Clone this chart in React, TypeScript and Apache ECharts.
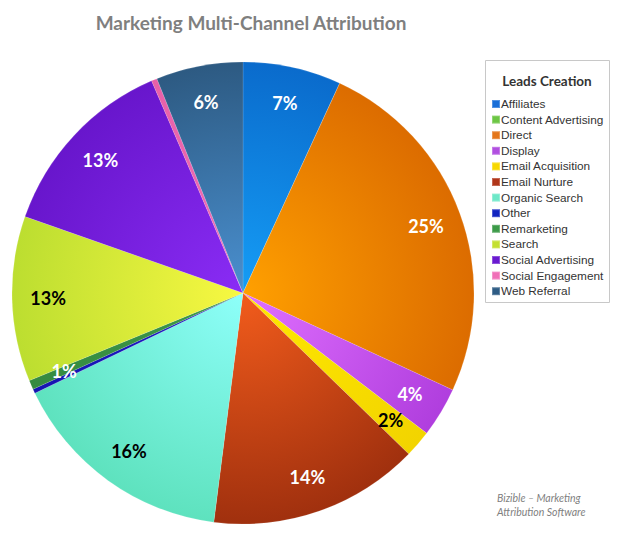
import React, { useEffect, useRef } from "react";
import * as echarts from "echarts";

const categories = [
  "Affiliates",
  "Content Advertising",
  "Direct",
  "Display",
  "Email Acquisition",
  "Email Nurture",
  "Organic Search",
  "Other",
  "Remarketing",
  "Search",
  "Social Advertising",
  "Social Engagement",
  "Web Referral",
];

const shares = [6.9, 0, 25.1, 3.5, 1.9, 14.8, 15.9, 0.3, 0.65, 11.6, 13.2, 0.4, 6.1];

const percentLabels = ["7%", "", "25%", "4%", "2%", "14%", "16%", "", "1%", "13%", "13%", "", "6%"];

const labelColors = ["#fff", "#fff", "#fff", "#fff", "#000", "#fff", "#000", "#fff", "#fff", "#000", "#fff", "#fff", "#fff"];

const innerColors = ["#159df6", "#6cc644", "#ffa000", "#e070ff", "#ffe800", "#f25c1c", "#8efffa", "#1a1ac8", "#3c9a48", "#f8f842", "#8a2cf5", "#f070b8", "#4a90d0"];
const outerColors = ["#0a6bcc", "#5cb838", "#dc6c00", "#b03ede", "#f2d400", "#a0300e", "#5ee2be", "#1515b0", "#358a40", "#bcde30", "#6816cc", "#e860a8", "#2d5a82"];
const legendColors = ["#1a6fd8", "#6cc644", "#e4761a", "#b14fe0", "#f7d800", "#b0361a", "#6ee8c8", "#1224c0", "#3c9a48", "#c4e030", "#6a1ad0", "#f070b8", "#2e5c84"];

const CX = 243;
const CY = 293;
const R = 231;

export default function App() {
  const ref = useRef<HTMLDivElement>(null);
  useEffect(() => {
    document.body.style.margin = "0";
    const chart = echarts.init(ref.current!, null, { renderer: "svg" });
    const pieData = categories.map((name, i) => ({
      name,
      value: shares[i],
      itemStyle: {
        color: {
          type: "radial",
          x: CX,
          y: CY,
          r: R,
          global: true,
          colorStops: [
            { offset: 0, color: innerColors[i] },
            { offset: 1, color: outerColors[i] },
          ],
        },
      },
    }));
    const labelData = categories.map((name, i) => ({
      name,
      value: shares[i],
      label: { color: labelColors[i] },
    }));
    chart.setOption({
      animation: false,
      title: {
        text: "Marketing Multi-Channel Attribution",
        left: 246,
        textAlign: "center",
        top: 8,
        textStyle: { fontFamily: "Lato", fontWeight: "bold", fontSize: 19, color: "#7f7f7f" },
      },
      legend: {
        orient: "vertical",
        left: 491,
        top: 97.5,
        padding: 0,
        itemWidth: 8,
        itemHeight: 8,
        itemGap: 2.6,
        icon: "rect",
        selectedMode: false,
        textStyle: { fontFamily: "Liberation Sans", fontSize: 11.8, color: "#333", lineHeight: 13, padding: [0, 0, 0, -4] },
        data: categories.map((name, i) => ({ name, itemStyle: { color: legendColors[i] } })),
      },
      graphic: [
        {
          type: "rect",
          shape: { x: 485.5, y: 60.5, width: 124, height: 242 },
          style: { fill: "#fff", stroke: "#c8c8c8", lineWidth: 1 },
          z: -1,
        },
        {
          type: "text",
          x: 547,
          y: 81,
          style: {
            text: "Leads Creation",
            fontFamily: "Lato",
            fontWeight: "bold",
            fontSize: 13.5,
            fill: "#333",
            align: "center",
            verticalAlign: "middle",
          },
        },
        {
          type: "text",
          x: 497,
          y: 505,
          style: {
            text: "Bizible \u2013 Marketing\nAttribution Software",
            fontFamily: "Lato",
            fontStyle: "italic",
            fontSize: 10.5,
            lineHeight: 14,
            fill: "#7f7f7f",
            verticalAlign: "middle",
          },
        },
      ],
      series: [
        {
          type: "pie",
          center: [CX, CY],
          radius: [0, R],
          startAngle: 90,
          clockwise: true,
          silent: true,
          label: { show: false },
          labelLine: { show: false },
          itemStyle: { borderColor: "rgba(255,255,255,0.25)", borderWidth: 0.5 },
          data: pieData,
        },
        {
          type: "pie",
          center: [CX, CY],
          radius: [158, 226],
          startAngle: 90,
          clockwise: true,
          silent: true,
          itemStyle: { color: "rgba(0,0,0,0)" },
          labelLine: { show: false },
          label: {
            show: true,
            position: "inside",
            fontFamily: "Lato",
            fontWeight: "bold",
            fontSize: 18,
            formatter: (p: any) => percentLabels[p.dataIndex],
          },
          data: labelData,
        },
      ],
    });
    return () => chart.dispose();
  }, []);
  return <div ref={ref} style={{ width: 619, height: 540 }} />;
}
